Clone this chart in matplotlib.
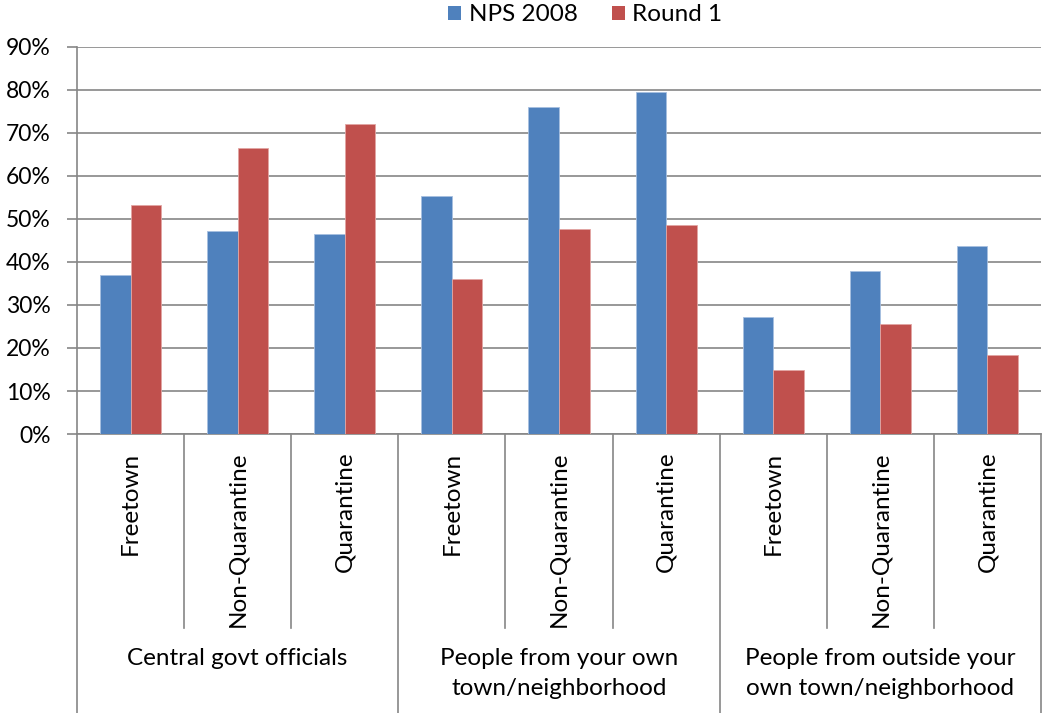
import matplotlib.pyplot as plt
from matplotlib.patches import Patch
import numpy as np

plt.rcParams['font.family'] = ['Lato', 'DejaVu Sans']

# Значения по категориям (доля, %)
sites = ['Freetown', 'Non-Quarantine', 'Quarantine'] * 3
groups = ['Central govt officials',
          'People from your own\ntown/neighborhood',
          'People from outside your\nown town/neighborhood']
nps_2008 = [36.9, 47.2, 46.5, 55.3, 76.0, 79.6, 27.1, 37.8, 43.7]
round_1 = [53.3, 66.4, 72.1, 36.1, 47.6, 48.5, 14.9, 25.6, 18.3]

BLUE = '#4F81BD'
RED = '#C0504D'
GRID = '#868686'
FS = 17.5

fig = plt.figure(figsize=(10.45, 7.13), dpi=100)
ax = fig.add_axes([0.0737, 0.3913, 0.9225, 0.5428])

x = np.arange(len(sites))
w = 0.285
ax.bar(x - w / 2, nps_2008, w, color=BLUE, edgecolor='#a7bfe0', linewidth=0.6, zorder=3)
ax.bar(x + w / 2, round_1, w, color=RED, edgecolor='#e2a5a3', linewidth=0.6, zorder=3)

ax.set_xlim(-0.5, len(sites) - 0.5)
ax.set_ylim(0, 90)
ax.set_yticks(range(0, 91, 10))
ax.set_yticklabels([f'{v}%' for v in range(0, 91, 10)], fontsize=16.5)
ax.yaxis.grid(True, color=GRID, linewidth=1.2, zorder=0)
ax.tick_params(axis='y', length=7, width=1.2, color=GRID, pad=12)
ax.set_xticks([])

for s in ['top', 'right']:
    ax.spines[s].set_visible(False)
for s in ['left', 'bottom']:
    ax.spines[s].set_color(GRID)
    ax.spines[s].set_linewidth(1.2)

# многоуровневая ось категорий
tr = ax.get_xaxis_transform()
for i in range(len(sites) + 1):
    b = i - 0.5
    low = -0.721 if i % 3 == 0 else -0.501
    ax.plot([b, b], [0, low], color=GRID, linewidth=1.2, transform=tr, clip_on=False)

for i, name in enumerate(sites):
    ax.text(i, -0.046, name, rotation=90, ha='center', va='top',
            fontsize=FS, transform=tr)

for g, name in enumerate(groups):
    ax.text(3 * g + 1, -0.553, name, ha='center', va='top', fontsize=FS,
            linespacing=1.55, transform=tr)

handles = [Patch(facecolor=BLUE), Patch(facecolor=RED)]
fig.legend(handles, ['NPS 2008', 'Round 1'], loc='center', bbox_to_anchor=(0.56, 0.979),
           ncol=2, frameon=False, fontsize=FS, handlelength=0.55, handleheight=0.55,
           handletextpad=0.3, columnspacing=1.4)

fig.savefig('out.png', dpi=100)
